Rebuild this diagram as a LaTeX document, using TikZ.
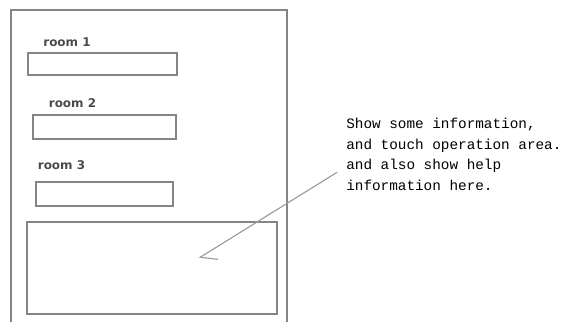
\documentclass[tikz,border=0pt]{standalone}
\usepackage{fontspec}
\setsansfont{DejaVu Sans}
\setmonofont{Liberation Mono}
\usetikzlibrary{arrows.meta}
\definecolor{framegray}{HTML}{858585}
\definecolor{labelgray}{HTML}{4A4A4A}
\definecolor{arrowgray}{HTML}{9A9A9A}
\tikzset{
    field/.style={rectangle, draw=framegray, line width=0.9pt, inner sep=0pt},
    roomlab/.style={font=\sffamily\bfseries\fontsize{8.5}{10}\selectfont, text=labelgray, inner sep=0pt},
    notetext/.style={font=\ttfamily\fontsize{10.2}{14.6}\selectfont, align=left, inner xsep=0.225cm, inner ysep=0pt},
    pointer/.style={-{Straight Barb[left, angle=78:0.45cm]}, arrowgray, line width=0.8pt},
}
\begin{document}
\begin{tikzpicture}[x=0.025cm, y=-0.025cm]
\useasboundingbox (0,0) rectangle (563,322);

% ── Screen frame ──
\draw[framegray, line width=0.9pt] (11,322) |- (287,10) -- (287,322);

% ── Room fields ──
\node[roomlab] (lab1) at (67,42) {room 1};
\node[field, minimum width=3.72cm, minimum height=0.55cm] (room1) at (102.5,64) {};

\node[roomlab] (lab2) at (72.5,103) {room 2};
\node[field, minimum width=3.58cm, minimum height=0.6cm] (room2) at (104.5,127) {};

\node[roomlab] (lab3) at (61.5,165) {room 3};
\node[field, minimum width=3.42cm, minimum height=0.6cm] (room3) at (104.5,194) {};

% ── Help area ──
\node[field, minimum width=6.25cm, minimum height=2.3cm] (help) at (152,268) {};

% ── Note ──
\node[notetext, anchor=north west] (note) at (337,118) {Show some information,\\and touch operation area.\\and also show help\\information here.};
\coordinate (tip) at (199,258);
\draw[pointer] ([yshift=-0.45cm]note.west) -- (tip);

\end{tikzpicture}
\end{document}
